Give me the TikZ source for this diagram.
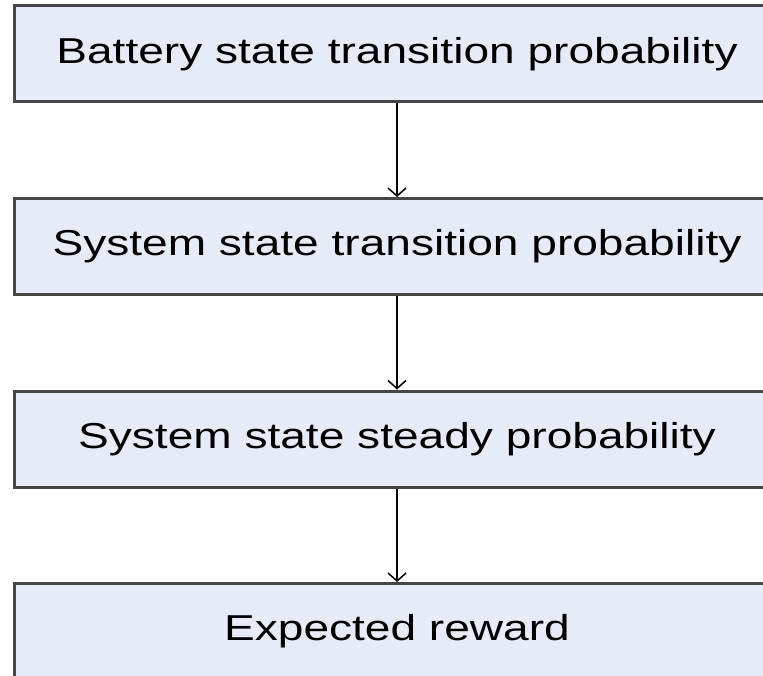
\documentclass[tikz,border=0pt]{standalone}
\usepackage{fontspec}
\setmainfont{Liberation Sans}
\newfontfamily\widesans[FakeStretch=1.28]{Liberation Sans}
\usetikzlibrary{arrows.meta,positioning}

\definecolor{boxfill}{HTML}{E6ECF7}
\definecolor{boxline}{HTML}{464646}

\begin{document}
\begin{tikzpicture}[x=1pt,y=-1pt,>={Straight Barb[length=8pt,width=18pt,line width=1.5pt]},
  node distance=192.5pt, line width=2pt,
  stage/.style={draw=boxline,fill=boxfill,line width=3pt,minimum width=766pt,
    minimum height=96pt,inner sep=0pt,font=\widesans\fontsize{36}{42}\selectfont}]
		\useasboundingbox (0,0) rectangle (763,676);
		\clip (0,0) rectangle (763,676);

		\node[stage] (battery) at (397,54) {Battery state transition probability};
		\node[stage] (systrans) [below of=battery] {System state transition probability};
		\node[stage] (steady) [below of=systrans] {System state steady probability};
		\node[stage] (reward) [below of=steady] {Expected reward};

		\draw[->] (battery) -- (systrans);
		\draw[->] (systrans) -- (steady);
		\draw[->] (steady) -- (reward);

\end{tikzpicture}
\end{document}
